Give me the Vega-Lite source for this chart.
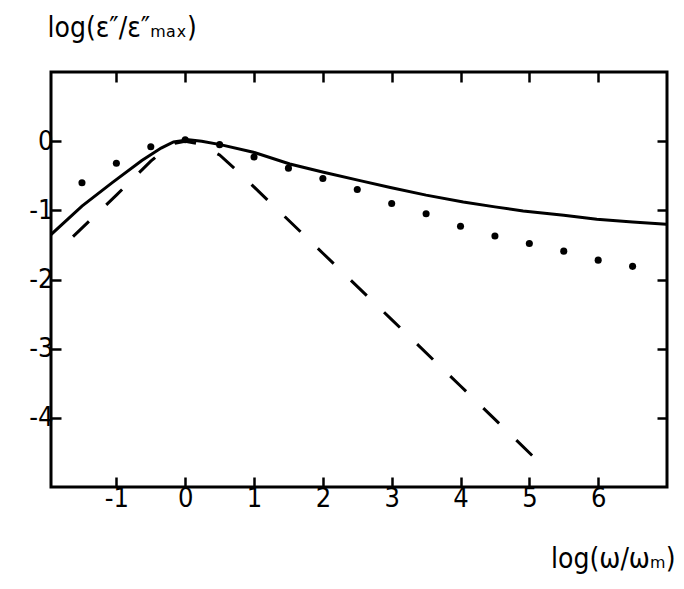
{
  "$schema": "https://vega.github.io/schema/vega-lite/v6.json",
  "width": 616,
  "height": 415,
  "autosize": {"type": "none"},
  "padding": {"left": 51, "top": 72, "right": 17, "bottom": 102},
  "background": "white",
  "config": {
    "view": {"stroke": "black", "strokeWidth": 3},
    "axis": {
      "domain": false,
      "grid": false,
      "tickColor": "black",
      "tickWidth": 2.5,
      "tickSize": -10,
      "labelFont": "Liberation Sans Narrow, DejaVu Sans Condensed, DejaVu Sans",
      "labelFontSize": 27,
      "labelColor": "black",
      "labelExpr": "replace(datum.label, '−', '-')",
      "titleFont": "Liberation Sans Narrow, DejaVu Sans Condensed, DejaVu Sans",
      "titleFontSize": 28,
      "titleFontWeight": "normal",
      "titleColor": "black"
    }
  },
  "datasets": {
    "solid": [
      {"x": -1.95, "y": -1.35}, {"x": -1.5, "y": -0.94}, {"x": -1.06, "y": -0.6},
      {"x": -0.63, "y": -0.28}, {"x": -0.35, "y": -0.1}, {"x": -0.17, "y": -0.01},
      {"x": 0.05, "y": 0.02}, {"x": 0.24, "y": 0.0}, {"x": 0.51, "y": -0.05},
      {"x": 0.99, "y": -0.16}, {"x": 1.52, "y": -0.33}, {"x": 2.01, "y": -0.45},
      {"x": 2.54, "y": -0.57}, {"x": 2.98, "y": -0.67}, {"x": 3.5, "y": -0.78},
      {"x": 4.04, "y": -0.88}, {"x": 4.5, "y": -0.95}, {"x": 4.91, "y": -1.01},
      {"x": 5.5, "y": -1.07}, {"x": 5.98, "y": -1.13}, {"x": 6.5, "y": -1.17},
      {"x": 6.99, "y": -1.2}
    ],
    "dashed": [
      {"x": -1.63, "y": -1.38}, {"x": -1.0, "y": -0.78}, {"x": -0.5, "y": -0.29},
      {"x": -0.3, "y": -0.12}, {"x": -0.15, "y": -0.03}, {"x": 0.0, "y": 0.0},
      {"x": 0.2, "y": -0.04}, {"x": 0.5, "y": -0.2}, {"x": 0.79, "y": -0.46},
      {"x": 1.07, "y": -0.73}, {"x": 2.0, "y": -1.62}, {"x": 3.0, "y": -2.58},
      {"x": 4.0, "y": -3.54}, {"x": 5.14, "y": -4.64}
    ],
    "dots": [
      {"x": -1.5, "y": -0.6}, {"x": -1.0, "y": -0.32}, {"x": -0.5, "y": -0.08},
      {"x": 0.0, "y": 0.02}, {"x": 0.5, "y": -0.05}, {"x": 1.0, "y": -0.23},
      {"x": 1.5, "y": -0.39}, {"x": 2.0, "y": -0.54}, {"x": 2.5, "y": -0.7},
      {"x": 3.0, "y": -0.9}, {"x": 3.5, "y": -1.05}, {"x": 4.0, "y": -1.23},
      {"x": 4.5, "y": -1.37}, {"x": 5.0, "y": -1.48}, {"x": 5.5, "y": -1.59},
      {"x": 6.0, "y": -1.72}, {"x": 6.5, "y": -1.81}
    ]
  },
  "resolve": {"axis": {"x": "independent", "y": "independent"}},
  "layer": [
    {
      "data": {"name": "solid"},
      "mark": {"type": "line", "color": "black", "strokeWidth": 3, "clip": true},
      "encoding": {
        "x": {
          "field": "x", "type": "quantitative",
          "scale": {"domain": [-1.95, 7], "nice": false, "zero": false},
          "axis": {
            "orient": "bottom", "values": [-1, 0, 1, 2, 3, 4, 5, 6],
            "labelPadding": 8,
            "title": "log(ω/ωₘ)",
            "titleAlign": "right", "titleAnchor": null, "titleBaseline": "alphabetic",
            "titleX": 624, "titleY": 80
          }
        },
        "y": {
          "field": "y", "type": "quantitative",
          "scale": {"domain": [-5, 1], "nice": false, "zero": false},
          "axis": {
            "orient": "left", "values": [0, -1, -2, -3, -4],
            "labelPadding": 8,
            "title": "log(ε″/ε″ₘₐₓ)",
            "titleAngle": 0, "titleAlign": "left", "titleAnchor": null, "titleBaseline": "alphabetic",
            "titleX": -4, "titleY": -36
          }
        }
      }
    },
    {
      "data": {"name": "dashed"},
      "mark": {"type": "line", "color": "black", "strokeWidth": 3, "strokeDash": [22, 24], "clip": true},
      "encoding": {
        "x": {"field": "x", "type": "quantitative", "axis": null},
        "y": {"field": "y", "type": "quantitative", "axis": null}
      }
    },
    {
      "data": {"name": "dots"},
      "mark": {"type": "point", "filled": true, "color": "black", "size": 50, "opacity": 1},
      "encoding": {
        "x": {
          "field": "x", "type": "quantitative",
          "axis": {"orient": "top", "values": [-1, 0, 1, 2, 3, 4, 5, 6], "labels": false, "title": null}
        },
        "y": {
          "field": "y", "type": "quantitative",
          "axis": {"orient": "right", "values": [0, -1, -2, -3, -4], "labels": false, "title": null}
        }
      }
    }
  ]
}
